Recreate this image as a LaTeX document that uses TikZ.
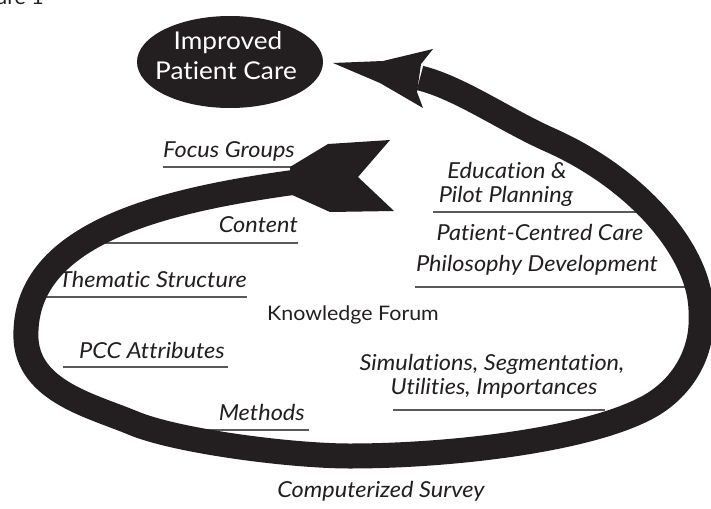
\documentclass[tikz,border=0pt]{standalone}
\usepackage{fontspec}
\setmainfont{Lato}[FakeStretch=1.07, Ligatures={NoCommon,NoContextual}, RawFeature={-liga;-clig;-dlig}]
\usetikzlibrary{shapes.geometric}
\definecolor{ink}{HTML}{231F20}
\definecolor{rulegray}{HTML}{58595B}
\begin{document}
\begin{tikzpicture}[x=1pt,y=-1pt,
  lbl/.style={font=\fontsize{22}{26}\selectfont\itshape, text=ink, inner sep=0pt},
  uline/.style={draw=rulegray, line width=1.3pt},
  band/.style={draw=ink, line width=25pt, line join=round},
  headfill/.style={fill=ink, draw=none},
  title/.style={font=\fontsize{24.5}{29}\selectfont, text=white, inner sep=0pt, anchor=base}]
\useasboundingbox (0,0) rectangle (711,508);
\clip (0,0) rectangle (711,508);
\fill[white] (0,0) rectangle (711,508);

% caption fragment
\node[font=\fontsize{20}{24}\selectfont, text=ink, anchor=base east, inner sep=0pt] (fig) at (44,5) {Figure 1};

% underlines
\draw[uline] (163,167) -- (294,167);
\draw[uline] (85,243) -- (298,243);
\draw[uline] (35,297) -- (247,297);
\draw[uline] (63,367) -- (228,367);
\draw[uline] (200,430) -- (309,430);
\draw[uline] (433,212) -- (645,212);
\draw[uline] (415,287) -- (700,287);
\draw[uline] (393,410) -- (605,410);

% loop
\coordinate (tail) at (312,180);
\coordinate (headbase) at (420,78);
\draw[band] (tail)
  .. controls (170,198) and (30,230) .. (26,330)
  .. controls (22,390) and (90,405) .. (133,423)
  .. controls (176,441) and (290,456) .. (350,456)
  .. controls (450,456) and (590,440) .. (650,406)
  .. controls (685,386) and (703,350) .. (701,315)
  .. controls (703,255) and (640,180) .. (550,140)
  .. controls (505,120) and (460,88) .. (headbase);

% tail fletching
\fill[headfill] (290,167) -- (328,144) -- (390,140) -- (358,177) -- (394,211) -- (330,212) -- (290,194) -- cycle;

% arrow head
\coordinate (tip) at (333,63);
\fill[headfill] (tip) -- (383,61) -- (433,49) -- (421,64) -- (417,92) -- (423,108) -- (380,83) -- cycle;

% target ellipse
\node[ellipse, fill=ink, minimum width=186pt, minimum height=92pt, inner sep=0pt] (care) at (230,62) {};
\node[title] (care1) at (228,50) {Improved};
\node[title] (care2) at (226,80) {Patient Care};

% centre label
\node[font=\fontsize{20}{24}\selectfont, text=ink, anchor=base, inner sep=0pt] (kf) at (353,320) {Knowledge Forum};

% left labels
\node[lbl, anchor=base east] (fg) at (295,157) {Focus Groups};
\node[lbl, anchor=base east] (ct) at (298,232) {Content};
\node[lbl, anchor=base east] (ts) at (247,287) {Thematic Structure};
\node[lbl, anchor=base east] (pcc) at (225,358) {PCC Attributes};
\node[lbl, anchor=base east] (me) at (305,420) {Methods};

% right labels
\node[lbl, anchor=base] (ed1) at (507,178) {Education \&};
\node[lbl, anchor=base] (ed2) at (506,202) {Pilot Planning};
\node[lbl, anchor=base] (pc1) at (540,240) {Patient-Centred Care};
\node[lbl, anchor=base] (pc2) at (537,271) {Philosophy Development};
\node[lbl, anchor=base] (si1) at (492,370) {Simulations, Segmentation,};
\node[lbl, anchor=base] (si2) at (494,394) {Utilities, Importances};

% bottom label
\node[lbl, anchor=base] (cs) at (381,497) {Computerized Survey};
\end{tikzpicture}
\end{document}
